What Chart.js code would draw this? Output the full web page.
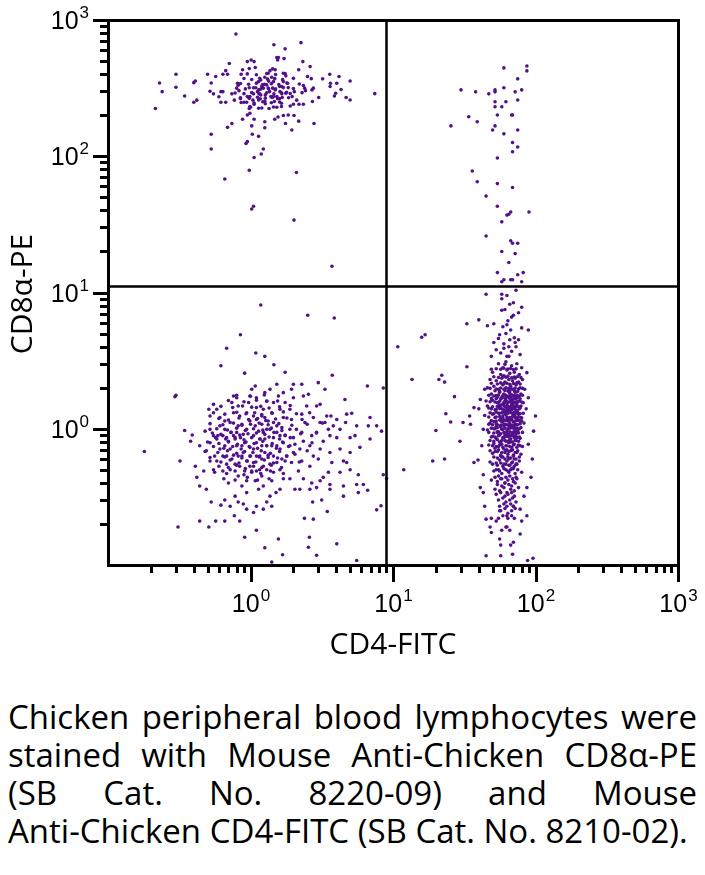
<!DOCTYPE html>
<html lang="en">
<head>
  <meta charset="UTF-8" />
  <title>CD4-FITC vs CD8α-PE</title>
  <script src="https://cdn.jsdelivr.net/npm/chart.js"></script>
  <style>
    body { margin: 0; background: #fff; width: 705px; height: 875px; position: relative; overflow: hidden; }
    #wrap { position: absolute; left: 0; top: 0; width: 705px; height: 680px; }
    .caption {
      position: absolute; left: 8px; top: 698px; width: 689px;
      font-family: "Open Sans", sans-serif; font-size: 33px; line-height: 38px;
      text-align: justify; color: #000;
    }
    .nw { white-space: nowrap; }
  </style>
</head>
<body>
  <div id="wrap"><canvas id="plot" width="705" height="680"></canvas></div>
  <div class="caption">Chicken peripheral blood lymphocytes were stained with Mouse <span class="nw">Anti-Chicken</span> <span class="nw">CD8α-PE</span> (SB Cat. No. <span class="nw">8220-09)</span> and Mouse <span class="nw">Anti-Chicken</span> <span class="nw">CD4-FITC</span> (SB Cat. No. <span class="nw">8210-02).</span></div>

  <script>
    // axis setup
    const xTitle = 'CD4-FITC';
    const yTitle = 'CD8α-PE';
    const axisMin = 0.1, axisMax = 1000;
    const labelExponents = [0, 1, 2, 3];
    const gateX = 9.0;   // CD4 quadrant split
    const gateY = 11.2;  // CD8 quadrant split

    // events, [CD4, CD8] pairs
    const upperLeft = [
      [0.79,789],[1.46,659],[2.26,682],[1.75,614],[0.30,400],[0.23,345],[0.24,298],[0.30,321],[0.215,224],[0.345,277],
      [0.40,347],[0.41,357],[0.40,249],[0.42,258],[0.50,400],[0.53,345],[0.52,300],[0.55,287],[0.60,273],[0.62,298],
      [0.64,298],[0.62,249],[0.67,249],[0.57,385],[0.64,400],[0.69,400],[0.67,425],[0.71,479],[0.74,287],[0.77,258],
      [0.81,343],[0.82,332],[0.83,303],[0.85,265],[0.86,400],[0.88,431],[0.95,495],[1.01,509],[1.06,495],[0.98,440],
      [1.08,448],[0.98,318],[0.95,274],[0.99,274],[1.04,258],[0.94,249],[0.86,248],[0.99,232],[1.06,241],[0.98,224],
      [0.99,207],[0.95,201],[0.88,187],[1.06,187],[1.14,225],[1.14,259],[1.14,307],[1.14,353],[1.18,363],[1.21,334],
      [1.20,325],[1.23,316],[1.27,282],[1.18,282],[1.17,264],[1.26,253],[1.30,334],[1.34,356],[1.33,407],[1.37,425],
      [1.43,438],[1.49,431],[1.55,509],[1.53,530],[1.57,530],[1.41,380],[1.45,353],[1.43,316],[1.49,307],[1.53,274],
      [1.55,264],[1.47,252],[1.35,224],[1.27,243],[1.53,229],[1.48,187],[1.56,194],[1.65,232],[1.65,245],[1.67,270],
      [1.66,287],[1.66,325],[1.70,353],[1.70,407],[1.77,389],[1.82,343],[1.79,295],[1.77,290],[1.84,319],[1.72,521],
      [1.70,199],[1.76,174],[1.84,201],[1.95,156],[2.02,199],[2.00,241],[1.90,234],[1.96,274],[2.03,298],[2.11,258],
      [2.19,241],[2.18,431],[2.33,495],[2.35,241],[2.35,330],[2.43,303],[2.51,385],[2.62,455],[2.67,371],[2.70,307],
      [2.76,316],[2.72,252],[3.01,270],[3.21,370],[3.60,400],[3.64,343],[3.62,325],[4.03,343],[4.18,385],[4.32,309],
      [3.96,290],[3.88,277],[4.69,270],[5.00,357],[5.00,259],[7.45,288],[2.79,174],[2.18,181],[1.26,179],[1.26,162],
      [1.02,167],[1.14,140],[1.03,145],[0.74,174],[0.69,163],[0.53,145],[0.53,113],[0.93,124],[0.95,128],[1.23,113],
      [1.19,104],[1.06,98],[0.98,79],[0.66,68],[2.10,76],[1.02,41],[1.05,43],[2.02,34],[3.73,15.6],[1.09,318],
      [1.12,298],[1.15,287],[1.36,298],[1.39,274],[1.45,274],[1.60,325],[1.61,298],[1.05,287],[1.34,312],[1.26,380]
    ];

    const upperLeftCore = [
      [0.95,402],[1.1,396],[1.3,405],[1.5,398],[1.75,404],
      [0.9,372],[1.02,366],[1.16,374],[1.32,368],[1.48,371],[1.68,365],[2.0,373],
      [0.85,342],[0.97,338],[1.1,344],[1.25,337],[1.4,341],[1.58,336],[1.8,345],[2.2,339],
      [0.8,316],[0.92,312],[1.05,318],[1.18,311],[1.33,317],[1.5,313],[1.7,319],[2.0,314],[2.4,316],
      [0.78,291],[0.9,288],[1.02,293],[1.15,289],[1.3,292],[1.46,287],[1.65,292],[1.9,289],[2.3,293],
      [0.85,269],[0.98,266],[1.12,271],[1.27,267],[1.42,270],[1.6,265],[1.85,269],
      [0.9,249],[1.06,246],[1.22,251],[1.4,247],[1.6,250],
      [1.0,229],[1.2,226],[1.45,230]
    ];

    const upperRight = [
      [60,445],[87,460],[87,423],[75,370],[30,307],[38,297],[47,287],[52,307],[52,297],[60,318],
      [72,297],[80,307],[52,251],[62,251],[75,259],[52,231],[58,231],[34,195],[39,179],[25.5,167],
      [54,201],[68,201],[69,201],[52,167],[50,156],[60,146],[75,156],[69,126],[75,117],[69,108],
      [54,97],[36,78],[39,65],[54,63],[69,59],[45,51],[54,43],[63,37],[65,37.5],[67,39],
      [90,39],[58,33],[45,26],[67,24],[69,23],[75,23],[58,20],[72,19.3],[65,16.6],[54,14],
      [75,13.5],[82,14],[60,12.4],[58,12],[67,12.4],[69,12.4],[80,12]
    ];

    const lowerLeft = [
      [1.18,8.1],[2.52,6.8],[3.87,6.5],[0.85,4.9],[0.68,3.9],[1.09,3.6],[1.26,3.4],[0.62,2.9],[1.46,2.95],[0.91,2.56],
      [1.75,2.6],[3.75,2.47],[0.30,1.76],[0.295,1.72],[0.18,0.68],[0.32,0.58],[0.345,0.97],[0.39,0.90],[0.38,0.81],[0.41,0.53],
      [0.31,0.19],[0.44,0.21],[0.51,0.19],[0.57,0.21],[0.66,0.21],[0.77,0.23],[0.84,0.21],[0.91,0.16],[1.10,0.18],[1.26,0.134],
      [1.41,0.105],[1.57,0.155],[1.68,0.119],[2.59,0.16],[2.55,0.135],[2.91,0.118],[4.03,0.143],[5.56,0.108],[2.39,0.22],[2.76,0.217],
      [3.46,0.247],[4.49,0.32],[5.71,0.34],[6.64,0.354],[7.68,0.254],[8.24,0.272],[8.55,0.46],[9.02,0.43],[6.71,1.05],[7.68,1.05],
      [8.31,0.96],[6.90,0.84],[6.61,2.06],[8.55,1.99],[6.90,1.21],[5.56,1.05],[5.41,0.89],[5.86,0.73],[4.73,1.28],[5.13,1.30],
      [4.65,1.11],[4.25,0.99],[3.67,1.24],[4.03,1.17],[3.33,1.11],[3.08,1.11],[2.91,0.94],[3.61,0.89],[4.25,0.71],[4.49,0.58],
      [4.73,0.565],[5.00,0.50],[4.25,0.48],[5.71,0.46],[6.19,0.39],[5.56,0.39],[4.49,0.38],[3.61,0.36],[3.24,0.44],[3.08,0.415],
      [2.91,0.37],[2.69,0.40],[2.61,0.36],[2.73,0.29],[3.16,0.30],[3.61,0.39],[2.35,0.43],[2.22,0.36],[2.05,0.36],[1.89,0.43],
      [1.70,0.43],[1.61,0.36],[1.51,0.34],[1.37,0.32],[1.30,0.29],[1.41,0.27],[1.23,0.257],[1.10,0.27],[1.05,0.243],[0.94,0.257],
      [0.89,0.28],[0.82,0.29],[0.78,0.32],[0.72,0.27],[0.66,0.30],[0.62,0.275],[0.53,0.29],[0.49,0.36],[0.44,0.38],[0.42,0.44],
      [0.47,0.49],[0.55,0.50],[0.58,0.58],[0.52,0.615],[0.49,0.69],[0.44,0.75],[0.52,0.79],[0.58,0.84],[0.52,0.99],[0.55,0.89],
      [0.48,0.96],[0.61,1.05],[0.52,1.24],[0.58,1.39],[0.51,1.39],[0.55,1.51],[0.61,1.21],[0.64,0.89],[0.66,0.75],[0.64,0.63],
      [0.64,0.49],[0.70,0.40],[0.72,0.50],[0.74,0.60],[0.72,0.71],[0.70,0.81],[0.73,0.94],[0.72,1.11],[0.76,1.31],[0.74,1.56],
      [0.76,1.74],[0.80,1.69],[0.82,1.47],[0.84,1.24],[0.82,1.05],[0.78,0.84],[0.80,0.75],[0.82,0.63],[0.84,0.53],[0.82,0.45],
      [0.87,0.38],[0.94,0.34],[0.94,0.415],[0.91,0.49],[0.94,0.58],[0.89,0.67],[0.91,0.79],[0.89,0.91],[0.94,0.99],[0.99,1.14],
      [0.94,1.31],[0.97,1.56],[0.99,1.74],[1.02,1.95],[1.08,2.06],[1.10,1.69],[1.10,1.43],[1.05,1.24],[1.08,1.05],[1.05,0.89],
      [1.10,0.79],[1.05,0.71],[1.10,0.63],[1.05,0.565],[1.10,0.49],[1.08,0.415],[1.14,0.36],[1.23,0.38],[1.20,0.45],[1.23,0.53],
      [1.20,0.60],[1.26,0.67],[1.20,0.75],[1.26,0.84],[1.23,0.94],[1.20,1.08],[1.26,1.21],[1.23,1.39],[1.30,1.60],[1.26,1.84],
      [1.37,1.95],[1.53,2.12],[1.57,1.74],[1.45,1.56],[1.41,1.31],[1.45,1.11],[1.37,0.99],[1.45,0.86],[1.41,0.75],[1.45,0.63],
      [1.37,0.55],[1.45,0.48],[1.41,0.415],[1.61,0.50],[1.66,0.60],[1.61,0.71],[1.70,0.79],[1.61,0.89],[1.66,1.02],[1.70,1.21],
      [1.61,1.39],[1.75,1.56],[1.70,1.84],[1.94,1.95],[2.00,1.69],[1.89,1.39],[1.94,1.17],[1.89,0.99],[2.00,0.86],[1.89,0.75],
      [2.05,0.65],[1.94,0.565],[2.17,0.49],[2.29,0.58],[2.22,0.71],[2.35,0.81],[2.29,0.94],[2.41,1.11],[2.29,1.28],[2.48,1.47],
      [2.35,1.74],[2.55,1.79],[2.76,1.21],[2.69,0.89],[2.61,0.75],[2.76,0.63],[2.61,0.53],[2.99,0.60],[3.08,0.71],[3.24,0.81],
      [2.91,1.47],[3.08,1.51],[3.33,1.95],[2.99,2.18],[2.29,2.12],[2.00,2.12],[3.61,0.67],[3.72,0.565],[3.52,0.48],[4.03,0.86],
      [3.81,1.05],[5.00,0.86],[5.00,0.67],[4.60,1.64],[3.43,1.24],[3.52,0.99],[0.66,0.99],[0.68,0.86],[0.76,0.89],[0.80,0.94],
      [0.85,0.86],[0.87,0.75],[0.87,0.63],[0.99,0.73],[0.99,0.63],[0.99,0.53],[1.02,0.49],[1.16,0.50],[1.16,0.63],[1.16,0.84],
      [1.14,0.96],[1.30,0.99],[1.30,0.75],[1.33,0.615],[1.30,0.50],[1.53,0.565],[1.53,0.75],[1.53,0.94],[1.53,1.05],[1.75,0.89],
      [1.79,0.63],[0.68,0.63],[0.68,0.55],[0.78,0.55],[0.61,0.71],[0.59,0.89],[0.66,1.14],[0.87,1.08],[1.10,1.17],[1.33,1.14],
      [1.20,1.24]
    ];

    const lowerLeftCore = [
      [0.62,1.46],[0.75,1.43],[0.88,1.47],[1.02,1.44],[1.18,1.46],[1.35,1.42],[1.6,1.45],[1.9,1.48],
      [0.55,1.31],[0.66,1.28],[0.8,1.32],[0.93,1.29],[1.07,1.31],[1.2,1.27],[1.42,1.3],[1.7,1.33],[2.1,1.29],[2.6,1.31],
      [0.6,1.19],[0.7,1.16],[0.83,1.2],[0.97,1.17],[1.12,1.19],[1.28,1.15],[1.5,1.18],[1.8,1.2],[2.3,1.17],
      [0.52,1.09],[0.64,1.07],[0.76,1.1],[0.87,1.06],[1.0,1.08],[1.15,1.1],[1.33,1.07],[1.58,1.09],[1.95,1.06],[2.5,1.08],[3.2,1.1],
      [0.58,1.0],[0.69,0.98],[0.8,1.01],[0.92,0.97],[1.05,1.0],[1.22,0.98],[1.4,1.01],[1.66,0.97],[2.1,0.99],
      [0.54,0.93],[0.62,0.91],[0.73,0.94],[0.84,0.9],[0.96,0.92],[1.1,0.93],[1.26,0.91],[1.46,0.94],[1.75,0.9],[2.25,0.92],[2.9,0.93],
      [0.57,0.86],[0.67,0.84],[0.78,0.86],[0.9,0.83],[1.02,0.86],[1.17,0.84],[1.35,0.87],[1.6,0.84],[1.9,0.86],
      [0.5,0.8],[0.6,0.78],[0.7,0.8],[0.81,0.77],[0.93,0.8],[1.06,0.78],[1.22,0.81],[1.42,0.78],[1.68,0.8],[2.05,0.77],[2.7,0.79],
      [0.55,0.74],[0.65,0.72],[0.75,0.74],[0.86,0.71],[0.98,0.74],[1.12,0.72],[1.3,0.75],[1.52,0.72],[1.85,0.74],
      [0.48,0.68],[0.59,0.67],[0.69,0.69],[0.8,0.66],[0.91,0.68],[1.04,0.67],[1.19,0.69],[1.38,0.66],[1.6,0.68],[2.0,0.67],[2.5,0.69],
      [0.56,0.63],[0.66,0.62],[0.76,0.64],[0.87,0.61],[1.0,0.63],[1.15,0.62],[1.33,0.64],[1.55,0.61],[1.8,0.63],
      [0.52,0.58],[0.62,0.57],[0.72,0.59],[0.83,0.56],[0.95,0.58],[1.09,0.57],[1.25,0.59],[1.45,0.56],[1.75,0.58],[2.2,0.57],
      [0.6,0.53],[0.7,0.52],[0.8,0.54],[0.92,0.51],[1.05,0.53],[1.2,0.52],[1.4,0.54],[1.65,0.52],
      [0.56,0.48],[0.68,0.47],[0.78,0.49],[0.9,0.46],[1.02,0.48],[1.18,0.47],[1.38,0.49],[1.7,0.47],
      [0.65,0.43],[0.78,0.42],[0.95,0.44],[1.12,0.42],[1.35,0.43],
      [0.7,1.61],[0.9,1.58],[1.1,1.62],[1.3,1.59],[1.55,1.6],
      [0.8,1.76],[1.0,1.73],[1.25,1.77]
    ];

    const lowerRight = [
      [45,9.7],[58,9.7],[73,10.4],[70,8.4],[80,7.8],[58,7.4],[33,5.9],[40,6.3],[46,5.7],[51,5.9],
      [63,5.8],[76,7.1],[68,6.6],[80,5.5],[89,5.3],[15.9,4.7],[33,2.85],[22,2.47],[23,2.2],[27,1.72],
      [23.5,1.29],[20,0.97],[25.4,1.12],[19,0.58],[23,0.60],[29.5,0.81],[31,1.11],[34.5,1.24],[37,1.43],[35,1.08],
      [40,1.40],[37,0.565],[39.5,0.59],[41,1.64],[44,1.95],[43,0.99],[42,0.75],[43,0.46],[41,0.37],[43,0.34],
      [44,0.27],[45,0.217],[48,0.19],[45,0.117],[57,0.117],[69,0.12],[88,0.108],[96,0.112],[100,1.24],[97,0.96],
      [89,0.77],[95,0.60],[93,0.44],[87,0.37],[83,0.32],[87,0.23],[80,0.21],[78,0.169],[70,0.147],[67,0.14],
      [56,0.155],[57,0.14],[49,0.173],[53,0.21],[63,0.19],[63,0.23],[56,0.25],[49,0.22],[78,0.257],[70,0.27],
      [89,1.69],[87,2.58],[80,2.8],[78,3.5],[73,4.0],[71,4.65],[76,4.5],[56,4.9],[51,4.3],[49,3.4],
      [49,2.73],[53,3.8],[60,3.9],[65,3.4],[61,2.97],[66,4.5],
      [55,3.0],[62,3.1],[68,2.9],[74,3.0],[59,2.8],
      [50,2.6],[57,2.5],[63,2.7],[66,2.55],[71,2.6],[77,2.5],[60,2.45],
      [48,2.3],[53,2.25],[58,2.35],[61,2.2],[65,2.3],[69,2.25],[72,2.35],[76,2.2],[81,2.3],
      [46,2.0],[51,2.05],[55,1.95],[59,2.1],[62,2.0],[64,1.9],[67,2.05],[70,1.95],[73,2.1],[78,2.0],[84,1.95],
      [49,1.8],[53,1.75],[56,1.85],[60,1.8],[63,1.72],[66,1.82],[69,1.76],[72,1.85],[75,1.7],[79,1.8],[58,1.7],[65,1.88],
      [45,1.6],[50,1.62],[54,1.55],[57,1.65],[61,1.6],[64,1.57],[67,1.63],[70,1.58],[73,1.65],[77,1.6],[82,1.55],[59,1.52],[68,1.5],
      [47,1.42],[52,1.38],[55,1.45],[58,1.4],[62,1.35],[65,1.43],[68,1.38],[71,1.45],[74,1.36],[78,1.42],[86,1.4],[60,1.48],[63,1.47],
      [44,1.25],[50,1.28],[53,1.22],[56,1.3],[59,1.24],[62,1.27],[66,1.2],[69,1.3],[72,1.23],[76,1.28],[80,1.2],[64,1.33],[57,1.18],
      [48,1.1],[51,1.13],[54,1.07],[58,1.12],[61,1.08],[64,1.14],[67,1.06],[70,1.12],[73,1.08],[77,1.15],[83,1.1],[60,1.16],[66,1.16],
      [46,0.98],[52,1.0],[55,0.95],[59,0.99],[63,0.96],[66,1.01],[69,0.94],[72,0.99],[75,0.96],[79,1.02],[57,1.03],[62,0.92],
      [49,0.87],[53,0.85],[56,0.9],[60,0.86],[63,0.88],[67,0.84],[70,0.89],[74,0.86],[78,0.85],[65,0.91],[58,0.82],
      [47,0.76],[51,0.78],[55,0.74],[58,0.77],[62,0.75],[65,0.79],[68,0.73],[71,0.77],[76,0.76],[81,0.74],[60,0.71],
      [50,0.66],[54,0.68],[57,0.64],[61,0.67],[64,0.65],[67,0.69],[70,0.64],[74,0.67],[79,0.65],[59,0.62],
      [48,0.57],[53,0.56],[56,0.59],[60,0.55],[63,0.58],[66,0.54],[69,0.57],[73,0.55],[77,0.58],
      [51,0.49],[55,0.5],[58,0.47],[62,0.5],[65,0.48],[68,0.51],[72,0.47],[75,0.5],[80,0.48],
      [49,0.42],[54,0.41],[57,0.43],[61,0.4],[64,0.42],[70,0.41],[74,0.43],
      [52,0.36],[56,0.35],[60,0.37],[63,0.34],[67,0.36],[71,0.35],[76,0.37],
      [55,0.3],[59,0.31],[62,0.29],[66,0.3],[69,0.31],[73,0.29],
      [57,0.25],[61,0.26],[64,0.24],[68,0.25],[72,0.26],
      [57,3.6],[63,3.4],[68,3.7],[60,4.2],[65,4.0],[72,4.3],[55,4.6],[62,5.0],[67,5.3],[59,5.6],
      [64,6.2],[70,6.8],[61,7.5],[66,8.2],[58,9.0],[63,9.5],
      [54,1.7],[61,1.68],[67,1.72],[71,1.69],[56,1.5],[63,1.53],[69,1.55],[74,1.52],[53,1.33],[60,1.34],
      [66,1.36],[71,1.32],[57,1.16],[63,1.18],[68,1.17],[74,1.19],[53,1.04],[60,1.05],[65,1.05],[71,1.04],
      [56,0.8],[62,0.81],[67,0.8],[72,0.82],[54,0.94],[61,0.9],[68,0.9],[73,0.92],[58,0.62],[65,0.6],
      [71,0.6],[52,0.72],[63,0.7],[69,0.7]
    ];

    const lowerRightCore = [
      [53,2.76],[57,2.73],[60,2.78],[64,2.74],[67,2.77],[70,2.72],[73,2.75],
      [51,2.41],[55,2.38],[59,2.42],[62,2.39],[64,2.43],[68,2.37],[71,2.4],[75,2.42],[79,2.38],
      [49,2.16],[54,2.13],[57,2.17],[60,2.14],[63,2.16],[66,2.12],[70,2.15],[74,2.17],[78,2.13],
      [48,1.98],[53,1.96],[57,1.99],[60,1.95],[65,1.98],[68,1.96],[72,1.99],[76,1.96],[81,1.98],
      [52,1.9],[56,1.88],[61,1.91],[66,1.89],[71,1.9],[75,1.88],
      [47,1.76],[51,1.74],[55,1.77],[59,1.75],[62,1.76],[65,1.73],[68,1.77],[71,1.75],[74,1.76],[77,1.74],[81,1.76],
      [49,1.67],[53,1.66],[58,1.68],[62,1.65],[66,1.67],[70,1.66],[73,1.68],[78,1.66],
      [48,1.58],[52,1.57],[56,1.59],[60,1.56],[63,1.58],[66,1.57],[69,1.59],[72,1.56],[75,1.58],[80,1.57],
      [46,1.47],[50,1.45],[54,1.46],[57,1.48],[61,1.45],[64,1.47],[67,1.45],[70,1.48],[73,1.46],[76,1.45],[79,1.47],
      [49,1.4],[53,1.39],[56,1.41],[60,1.38],[63,1.4],[66,1.39],[69,1.41],[72,1.39],[77,1.4],
      [48,1.31],[51,1.29],[55,1.3],[58,1.31],[61,1.29],[64,1.3],[67,1.31],[70,1.28],[73,1.3],[75,1.32],[78,1.29],[82,1.3],
      [47,1.22],[52,1.21],[56,1.23],[59,1.2],[63,1.22],[66,1.21],[69,1.23],[72,1.2],[76,1.22],[79,1.21],
      [49,1.15],[53,1.14],[56,1.16],[59,1.13],[62,1.15],[65,1.14],[68,1.16],[71,1.13],[74,1.15],[80,1.14],
      [47,1.08],[50,1.07],[53,1.09],[57,1.06],[60,1.08],[63,1.07],[66,1.09],[69,1.06],[72,1.08],[75,1.07],[78,1.09],
      [49,1.01],[51,1.0],[54,1.02],[58,0.99],[61,1.01],[64,1.0],[68,1.02],[71,0.99],[74,1.01],[77,1.0],
      [47,0.94],[51,0.93],[54,0.95],[57,0.92],[60,0.94],[63,0.93],[66,0.95],[69,0.92],[72,0.94],[76,0.93],[81,0.94],
      [50,0.88],[52,0.87],[55,0.89],[59,0.86],[62,0.88],[65,0.87],[68,0.89],[71,0.86],[73,0.88],[77,0.87],
      [48,0.82],[51,0.81],[54,0.83],[57,0.8],[61,0.82],[64,0.81],[66,0.83],[69,0.8],[73,0.82],[76,0.81],
      [50,0.75],[53,0.74],[56,0.76],[59,0.73],[63,0.75],[66,0.74],[70,0.76],[74,0.73],[78,0.75],
      [48,0.69],[52,0.68],[55,0.7],[58,0.67],[62,0.69],[65,0.68],[68,0.7],[72,0.67],[75,0.69],
      [51,0.62],[54,0.61],[57,0.63],[61,0.6],[64,0.62],[67,0.61],[70,0.63],[73,0.6],[77,0.62],
      [50,0.55],[54,0.54],[57,0.56],[59,0.53],[62,0.55],[65,0.54],[68,0.56],[71,0.53],[74,0.55],
      [53,0.5],[56,0.49],[60,0.51],[64,0.49],[67,0.5],[70,0.51],
      [52,0.44],[55,0.45],[58,0.43],[62,0.44],[66,0.45],[69,0.43],[73,0.44],
      [54,0.39],[58,0.38],[61,0.4],[65,0.39],[68,0.38],[72,0.4],
      [53,0.33],[57,0.34],[61,0.32],[64,0.33],[68,0.34],[71,0.32],
      [56,0.27],[60,0.28],[63,0.27],[67,0.28],[70,0.27],
      [55,0.22],[59,0.23],[64,0.22],[68,0.23],[71,0.22],
      [58,0.18],[62,0.19],[66,0.18]
    ];

    const gapEvents = [
      [10.8,4.0],[11.9,0.50],[13.6,2.3],[16.8,4.9],[21,2.3]
    ];

    const dotColor = '#52108a';
    const toXY = arr => arr.map(p => ({ x: p[0], y: p[1] }));

    function supLabel(ctx, base, exp, x, y, align) {
      ctx.font = '25px "Liberation Sans", Arial, sans-serif';
      const wb = ctx.measureText(base).width;
      ctx.font = '17px "Liberation Sans", Arial, sans-serif';
      const we = ctx.measureText(exp).width;
      let left = align === 'right' ? x - wb - we : x - (wb + we) / 2;
      ctx.textAlign = 'left';
      ctx.textBaseline = 'alphabetic';
      ctx.font = '25px "Liberation Sans", Arial, sans-serif';
      ctx.fillText(base, left, y);
      ctx.font = '17px "Liberation Sans", Arial, sans-serif';
      ctx.fillText(exp, left + wb + 1, y - 11);
    }

    const flowAxes = {
      id: 'flowAxes',
      afterDraw(chart) {
        const { ctx, chartArea: a, scales: { x, y } } = chart;
        ctx.save();
        ctx.strokeStyle = '#000';
        ctx.fillStyle = '#000';

        const seg = (x1, y1, x2, y2) => { ctx.beginPath(); ctx.moveTo(x1, y1); ctx.lineTo(x2, y2); ctx.stroke(); };

        // quadrant gates
        ctx.lineWidth = 2.5;
        const gx = Math.round(x.getPixelForValue(gateX)) + 0.5;
        const gy = Math.round(y.getPixelForValue(gateY)) + 0.5;
        seg(gx, a.top, gx, a.bottom);
        seg(a.left, gy, a.right, gy);

        // frame
        ctx.lineWidth = 3;
        ctx.strokeRect(a.left + 0.5, a.top + 0.5, a.right - a.left, a.bottom - a.top);

        // log ticks
        ctx.lineWidth = 3;
        for (let e = -1; e <= 3; e++) {
          for (let k = 1; k <= 9; k++) {
            const v = k * Math.pow(10, e);
            if (v <= axisMin * 1.0001 || v > axisMax * 1.0001) continue;
            const major = k === 1;
            const px = Math.round(x.getPixelForValue(v)) + 0.5;
            const py = Math.round(y.getPixelForValue(v)) + 0.5;
            seg(px, a.bottom, px, a.bottom + (major ? 17 : 8));
            seg(a.left - (major ? 15 : 8), py, a.left, py);
          }
        }

        // tick labels
        labelExponents.forEach(e => {
          const v = Math.pow(10, e);
          supLabel(ctx, '10', String(e), x.getPixelForValue(v), a.bottom + 47, 'center');
          supLabel(ctx, '10', String(e), 88, y.getPixelForValue(v) + 9, 'right');
        });

        // axis titles
        ctx.font = '30px "Open Sans", sans-serif';
        ctx.textAlign = 'center';
        ctx.textBaseline = 'alphabetic';
        ctx.fillText(xTitle, (a.left + a.right) / 2, 654);
        ctx.save();
        ctx.translate(32, 294);
        ctx.rotate(-Math.PI / 2);
        ctx.fillText(yTitle, 0, 0);
        ctx.restore();

        ctx.restore();
      }
    };

    new Chart(document.getElementById('plot'), {
      type: 'scatter',
      data: {
        datasets: [
          { label: 'CD4- CD8+', data: toXY(upperLeft.concat(upperLeftCore)) },
          { label: 'CD4+ CD8+', data: toXY(upperRight) },
          { label: 'CD4- CD8-', data: toXY(lowerLeft.concat(lowerLeftCore)) },
          { label: 'CD4+ CD8-', data: toXY(lowerRight.concat(lowerRightCore)) },
          { label: 'other', data: toXY(gapEvents) }
        ]
      },
      options: {
        responsive: false,
        animation: false,
        layout: { padding: { left: 108, top: 20, right: 27, bottom: 115 } },
        plugins: { legend: { display: false }, tooltip: { enabled: false } },
        elements: { point: { radius: 1.8, backgroundColor: dotColor, borderWidth: 0, hoverRadius: 1.8 } },
        scales: {
          x: { type: 'logarithmic', min: axisMin, max: axisMax, display: false },
          y: { type: 'logarithmic', min: axisMin, max: axisMax, display: false }
        }
      },
      plugins: [flowAxes]
    });
  </script>
</body>
</html>
